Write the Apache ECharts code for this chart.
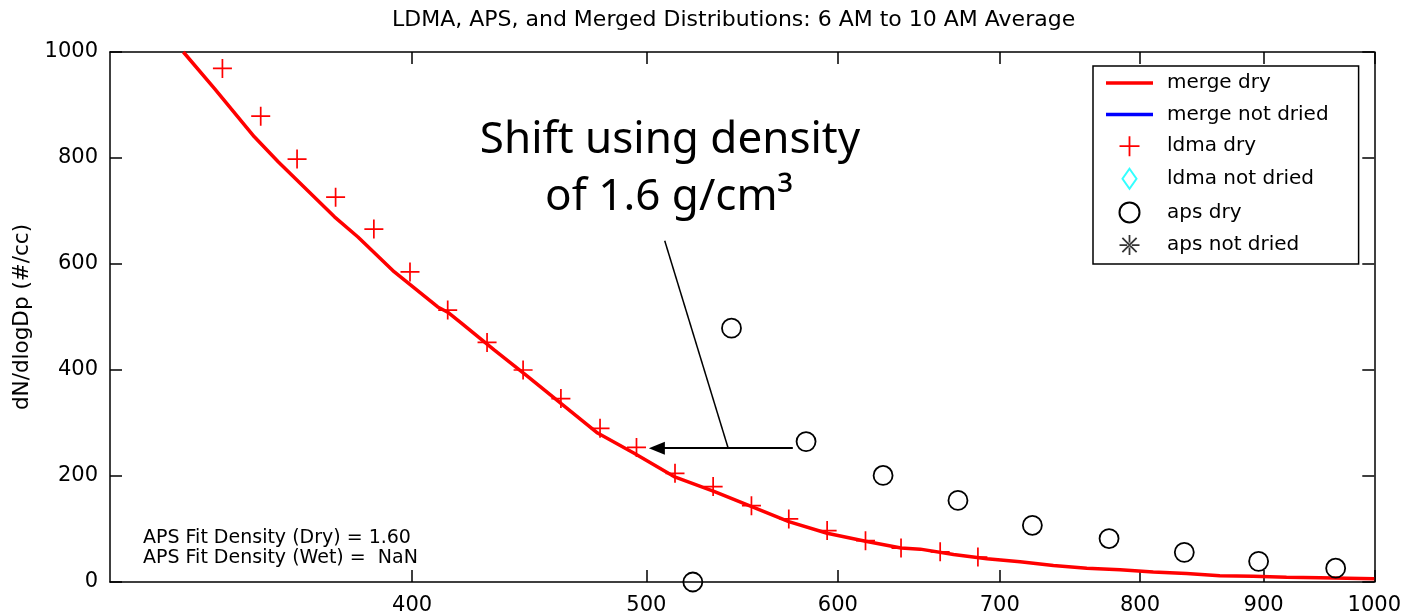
<!DOCTYPE html>
<html>
<head>
<meta charset="utf-8">
<script src="https://cdn.jsdelivr.net/npm/echarts@6/dist/echarts.min.js"></script>
<style>
html,body{margin:0;padding:0;background:#fff;}
#chart{width:1404px;height:616px;}
</style>
</head>
<body>
<div id="chart"></div>
<script>
// ---- data ----
const titleText = 'LDMA, APS, and Merged Distributions: 6 AM to 10 AM Average';
const yAxisName = 'dN/dlogDp (#/cc)';
const xTickValues = [400, 500, 600, 700, 800, 900, 1000];
const seriesNames = ['merge dry', 'merge not dried', 'ldma dry', 'ldma not dried', 'aps dry', 'aps not dried'];

const mergeDryX = [321.7, 331.4, 344.2, 352.1, 371.5, 379.9, 393.3, 409.9, 413.8, 419.1, 432.5, 446.5, 460.9, 477.3, 494.2, 513.3, 533.2, 552.1, 572.6, 593.9, 616.0, 637.2, 649.0, 669.9, 691.5, 713.7, 736.7, 760.5, 785.0, 810.2, 836.3, 863.2, 891.1, 919.8, 949.4, 1000];
const mergeDryY = [1000, 931, 840, 793, 689, 651, 585, 519, 509, 489, 438, 388, 337, 281, 243, 199, 171, 143, 114, 92, 77, 64, 62, 52, 44, 38, 31, 26, 23, 19, 16, 12, 11, 9, 8, 6];

const ldmaDryX = [333.9, 346.3, 358.5, 371.9, 385.7, 399.2, 413.8, 429.6, 444.6, 460.9, 478.4, 495.3, 513.8, 532.8, 552.6, 572.6, 593.9, 616.0, 637.2, 661.4, 685.6];
const ldmaDryY = [969, 879, 798, 726, 666, 585, 513, 452, 400, 346, 290, 254, 205, 180, 144, 119, 97, 78, 64, 57, 47];

const apsDryX = [522.6, 542.2, 582.1, 626.4, 672.7, 722.1, 776.8, 834.5, 895.7, 963.9];
const apsDryY = [0, 479, 265, 201, 154, 107, 82, 56, 39, 26];

// annotation (data coordinates)
const pointerLineFrom = [508.8, 644];
const pointerLineTo = [540.5, 252.5];
const arrowFrom = [574.8, 252.5];
const arrowTo = [505, 252.5];
const annotationLines = ['Shift using density', 'of 1.6 g/cm\u00B3'];
const fitTextLines = ['APS Fit Density (Dry) = 1.60', 'APS Fit Density (Wet) =  NaN'];

// ---- build ----
function zip(xs, ys) { return xs.map((x, i) => [x, ys[i]]); }

const plusPath = 'path://M-0.9,-10h1.8v9.1h9.1v1.8h-9.1v9.1h-1.8v-9.1h-9.1v-1.8h9.1z';
const diamondPath = 'path://M0,-10L7,0L0,10L-7,0Z';
const starPath = 'path://M-0.7,-8h1.4v16h-1.4z M-8,-0.7h16v1.4h-16z M-6.2,-5.2L5.2,6.2L6.2,5.2L-5.2,-6.2z M5.2,-6.2L-6.2,5.2L-5.2,6.2L6.2,-5.2z M-2,0a2,2 0 1,0 4,0a2,2 0 1,0 -4,0z';
const linePath = 'path://M0,0h47v3.5h-47z';

const FONT = 'DejaVu Sans';

const chart = echarts.init(document.getElementById('chart'), null, {renderer: 'canvas'});

const xAxisBase = {
  type: 'log', logBase: 10, min: 300, max: 1000,
  axisLine: {show: true, onZero: false, lineStyle: {color: '#000', width: 1.5}},
  axisTick: {show: true, inside: true, length: 12, customValues: xTickValues, lineStyle: {color: '#000', width: 1.5}},
  minorTick: {show: false},
  splitLine: {show: false},
  minorSplitLine: {show: false}
};
const yAxisBase = {
  type: 'value', min: 0, max: 1000, interval: 200,
  axisLine: {show: true, onZero: false, lineStyle: {color: '#000', width: 1.5}},
  axisTick: {show: true, inside: true, length: 12, lineStyle: {color: '#000', width: 1.5}},
  splitLine: {show: false}
};

const option = {
  animation: false,
  backgroundColor: '#fff',
  textStyle: {fontFamily: FONT, color: '#000'},
  title: {
    text: titleText, left: 392, top: 9, padding: 0,
    textStyle: {fontFamily: FONT, fontSize: 22, fontWeight: 'normal', color: '#000'}
  },
  grid: {left: 110, right: 29, top: 52, bottom: 34},
  legend: {
    orient: 'vertical', left: 1093, top: 66,
    padding: [7, 30, 9, 13],
    itemWidth: 47, itemHeight: 20, itemGap: 11.6,
    symbolKeepAspect: true,
    selectedMode: false,
    backgroundColor: '#fff', borderColor: '#000', borderWidth: 1.5,
    textStyle: {fontFamily: FONT, fontSize: 20, color: '#000', padding: [0, 0, 0, 9]},
    data: [
      {name: seriesNames[0], icon: linePath},
      {name: seriesNames[1], icon: linePath},
      {name: seriesNames[2], icon: plusPath},
      {name: seriesNames[3], icon: diamondPath},
      {name: seriesNames[4], icon: 'circle'},
      {name: seriesNames[5], icon: starPath}
    ]
  },
  xAxis: [
    Object.assign({}, xAxisBase, {
      position: 'bottom',
      axisLabel: {show: true, customValues: xTickValues, fontFamily: FONT, fontSize: 21, color: '#000', margin: 13,
        formatter: v => String(Math.round(v))}
    }),
    Object.assign({}, xAxisBase, {position: 'top', axisLabel: {show: false}})
  ],
  yAxis: [
    Object.assign({}, yAxisBase, {
      position: 'left',
      name: yAxisName, nameLocation: 'middle', nameGap: 77,
      nameTextStyle: {fontFamily: FONT, fontSize: 21.5, color: '#000'},
      axisLabel: {show: true, fontFamily: FONT, fontSize: 21, color: '#000', margin: 12,
        formatter: v => String(v)}
    }),
    Object.assign({}, yAxisBase, {position: 'right', axisLabel: {show: false}})
  ],
  series: [
    {
      name: seriesNames[0], type: 'line', xAxisIndex: 0, yAxisIndex: 0,
      data: zip(mergeDryX, mergeDryY), symbol: 'none', clip: false,
      lineStyle: {color: '#ff0000', width: 3.5}, itemStyle: {color: '#ff0000'}, z: 3,
      markLine: {
        silent: true, animation: false,
        label: {show: false},
        emphasis: {disabled: true},
        data: [
          [{coord: pointerLineFrom, symbol: 'none', lineStyle: {width: 1.5}}, {coord: pointerLineTo, symbol: 'none'}],
          [{coord: arrowFrom, symbol: 'none', lineStyle: {width: 2}}, {coord: arrowTo, symbol: 'triangle', symbolSize: [13, 16]}]
        ],
        lineStyle: {color: '#000', type: 'solid', width: 1.5},
        itemStyle: {color: '#000'}
      }
    },
    {
      name: seriesNames[1], type: 'line', data: [], symbol: 'none',
      lineStyle: {color: '#0000ff', width: 3.5}, itemStyle: {color: '#0000ff'}
    },
    {
      name: seriesNames[2], type: 'scatter', data: zip(ldmaDryX, ldmaDryY),
      symbol: plusPath, symbolSize: 19, clip: false,
      itemStyle: {color: '#ff0000', opacity: 1}, z: 4
    },
    {
      name: seriesNames[3], type: 'scatter', data: [],
      symbol: diamondPath, symbolSize: [14, 20],
      itemStyle: {color: 'rgba(0,0,0,0)', borderColor: '#00ffff', borderWidth: 1.5}
    },
    {
      name: seriesNames[4], type: 'scatter', data: zip(apsDryX, apsDryY),
      symbol: 'circle', symbolSize: 19, clip: false,
      itemStyle: {color: 'rgba(0,0,0,0)', borderColor: '#000', borderWidth: 1.8, opacity: 1}, z: 4
    },
    {
      name: seriesNames[5], type: 'scatter', data: [],
      symbol: starPath, symbolSize: 16,
      itemStyle: {color: '#000'}
    }
  ],
  graphic: [
    {type: 'text', x: 670, y: 140, z: 10, silent: true,
     style: {text: annotationLines[0], fontFamily: 'Noto Sans', fontSize: 44, fill: '#000', align: 'center', verticalAlign: 'middle'}},
    {type: 'text', x: 669, y: 197, z: 10, silent: true,
     style: {text: annotationLines[1], fontFamily: 'Noto Sans', fontSize: 44, fill: '#000', align: 'center', verticalAlign: 'middle'}},
    {type: 'text', x: 143, y: 538, z: 10, silent: true,
     style: {text: fitTextLines[0], fontFamily: FONT, fontSize: 19, fill: '#000', align: 'left', verticalAlign: 'middle'}},
    {type: 'text', x: 143, y: 558, z: 10, silent: true,
     style: {text: fitTextLines[1], fontFamily: FONT, fontSize: 19, fill: '#000', align: 'left', verticalAlign: 'middle'}}
  ]
};

chart.setOption(option);
</script>
</body>
</html>
